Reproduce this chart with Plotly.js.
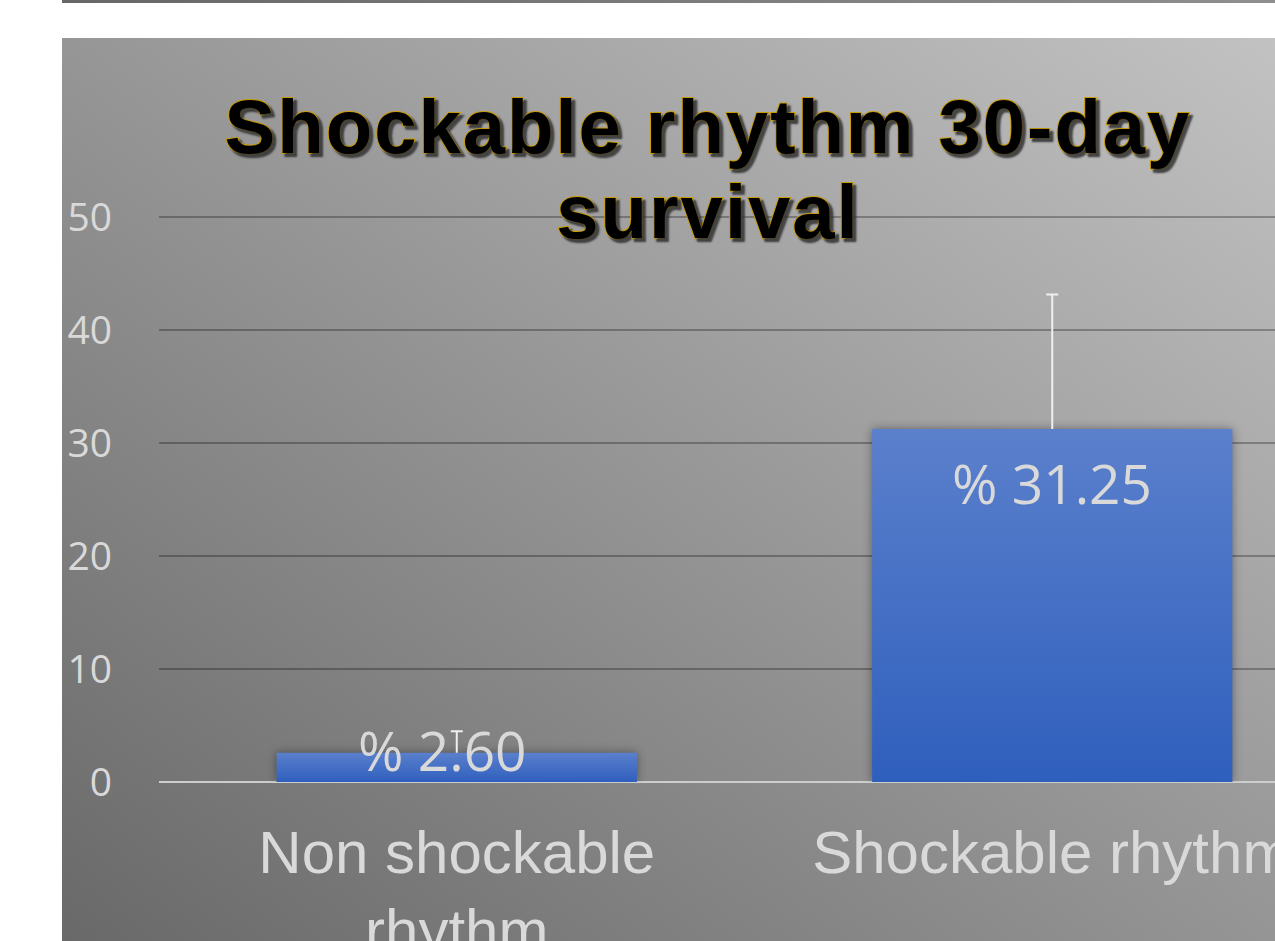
<!DOCTYPE html>
<html><head><meta charset="utf-8">
<script src="https://cdn.plot.ly/plotly-3.0.1.min.js"></script>
<style>
html,body{margin:0;padding:0;width:1275px;height:941px;overflow:hidden;background:#fff;}
#panel{position:absolute;left:62px;top:38px;right:0;bottom:0;background:linear-gradient(36deg,#696969 0%,#c2c2c2 100%);}
#topbar{position:absolute;left:62px;top:0;right:0;height:3px;background:linear-gradient(90deg,#676767,#8f8f8f);}
#chart{position:absolute;left:0;top:0;width:1360px;height:941px;}
#chart .bars .point path{filter:drop-shadow(0 0 5px rgba(0,0,0,0.4));}
</style></head>
<body>
<div id="topbar"></div><div id="panel"></div><div id="chart"></div>
<script>
const categories = ['Non shockable<br>rhythm', 'Shockable rhythm'];
const survivalPct = [2.6, 31.25];
const errorPlus = [1.9, 11.9];
const yTickValues = [0, 10, 20, 30, 40, 50];
const yTickLabels = ['0', '10', '20', '30', '40', '50'];
const titleText = 'Shockable rhythm 30-day<br>survival';

const yMax = 50.1;
const plotTop = 216, plotBottomMargin = 159, figH = 941;
const plotH = figH - plotTop - plotBottomMargin;

const labelFont = {family: 'Open Sans, Noto Sans, sans-serif', size: 55, color: '#d9d9d9'};
const annotations = survivalPct.map((v, i) => {
  const barPx = v / yMax * plotH;
  const inside = barPx > 90;
  return {
    x: categories[i], y: v, xref: 'x', yref: 'y',
    text: '% ' + v.toFixed(2),
    showarrow: false, font: labelFont,
    xanchor: 'center', yanchor: 'middle',
    yshift: inside ? -54 : 3,
    xshift: inside ? 0 : -14
  };
});

const data = [{
  type: 'bar',
  x: categories,
  y: survivalPct,
  marker: {color: '#4570c8', line: {width: 0}},
  error_y: {type: 'data', symmetric: false, array: errorPlus, arrayminus: survivalPct.map(() => 0),
            color: '#f0f0f0', thickness: 2, width: 6},
  hoverinfo: 'none'
}];

const layout = {
  width: 1360, height: figH,
  margin: {l: 159, r: 10, t: plotTop, b: plotBottomMargin, pad: 0},
  paper_bgcolor: 'rgba(0,0,0,0)',
  plot_bgcolor: 'rgba(0,0,0,0)',
  bargap: 0.395,
  showlegend: false,
  title: {
    text: titleText,
    x: 708 / 1360, xanchor: 'center', xref: 'container',
    y: 1 - 153 / figH, yanchor: 'middle', yref: 'container',
    font: {family: 'Liberation Sans, Arial, sans-serif', size: 76, weight: 700, color: '#000',
           shadow: '3px 3px 2px rgba(50,50,50,0.85)'}
  },
  xaxis: {
    showgrid: false, showline: false, zeroline: false, ticks: '',
    tickfont: {family: 'Liberation Sans, Arial, sans-serif', size: 60, color: '#d9d9d9'},
    ticklabelstandoff: 30
  },
  yaxis: {
    range: [0, yMax], tickvals: yTickValues, ticktext: yTickLabels,
    showline: false, ticks: '',
    gridcolor: 'rgba(0,0,0,0.28)', gridwidth: 2,
    zeroline: true, zerolinecolor: '#cdcdcd', zerolinewidth: 2,
    tickfont: {family: 'Open Sans, Noto Sans, sans-serif', size: 39, color: '#d9d9d9'},
    ticklabelstandoff: 46
  },
  annotations: annotations
};

Plotly.newPlot('chart', data, layout, {staticPlot: true, responsive: false}).then(gd => {
  const ns = 'http://www.w3.org/2000/svg';
  const svg = gd.querySelector('svg.main-svg');
  let defs = svg.querySelector('defs');
  if (!defs) { defs = document.createElementNS(ns, 'defs'); svg.insertBefore(defs, svg.firstChild); }
  const lg = document.createElementNS(ns, 'linearGradient');
  lg.setAttribute('id', 'barGrad');
  lg.setAttribute('x1', '0'); lg.setAttribute('y1', '0');
  lg.setAttribute('x2', '0'); lg.setAttribute('y2', '1');
  [['0', '#5b80cc'], ['1', '#2f5fbd']].forEach(([o, c]) => {
    const s = document.createElementNS(ns, 'stop');
    s.setAttribute('offset', o); s.setAttribute('stop-color', c);
    lg.appendChild(s);
  });
  defs.appendChild(lg);
  gd.querySelectorAll('.bars .point path').forEach(p => { p.style.fill = 'url(#barGrad)'; });
  // plus-only error bars: drop the base cap
  gd.querySelectorAll('.errorbar path.yerror').forEach(p => {
    const d = p.getAttribute('d');
    if (d) p.setAttribute('d', d.replace(/m-[\d.]+,0h[\d.]+$/, ''));
  });
  const t = gd.querySelector('.gtitle');
  if (t) {
    t.style.stroke = '#c99a06';
    t.style.strokeWidth = '2px';
    t.style.paintOrder = 'stroke';
    t.style.letterSpacing = '2px';
    t.querySelectorAll('tspan.line').forEach((ln, i) => { if (i > 0) ln.setAttribute('dy', '1.12em'); });
  }
});
</script>
</body></html>
